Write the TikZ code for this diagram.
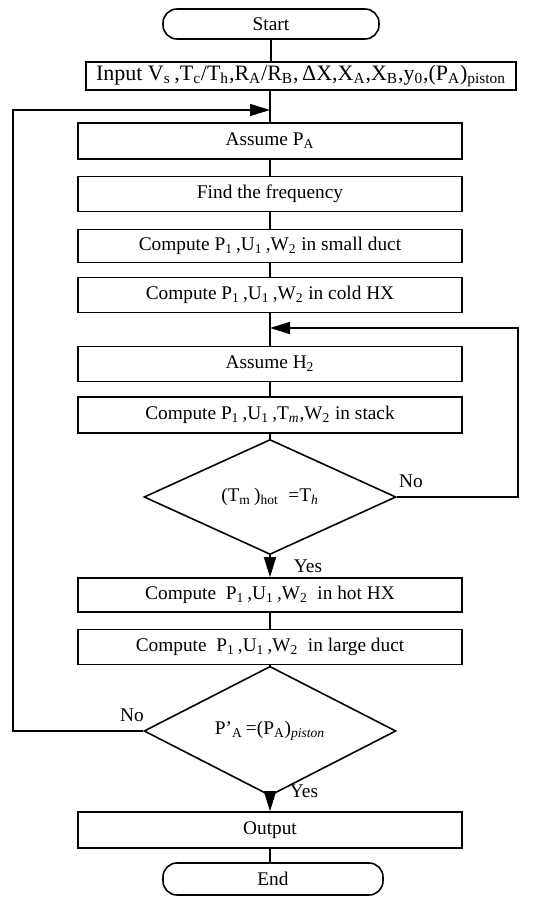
\documentclass[tikz,border=0pt]{standalone}
\usepackage{fontspec}
\setmainfont{Liberation Serif}
\usepackage{tikz}
\usetikzlibrary{positioning,arrows.meta,shapes.geometric}
\tikzset{
  box/.style={draw,line width=0.9pt,minimum width=7.68cm,minimum height=0.7cm,inner sep=0pt},
  term/.style={draw,line width=0.9pt,rounded corners=0.28cm,minimum width=4.32cm,minimum height=0.6cm,inner sep=0pt},
  decide/.style={draw,diamond,line width=0.9pt,minimum width=5.04cm,minimum height=1.98cm,inner sep=0pt},
  flow/.style={line width=0.9pt},
  arr/.style={flow,-{Triangle[length=4mm,width=2.4mm]}}
}

\begin{document}
\begin{tikzpicture}[font=\fontsize{11}{13}\selectfont]
\useasboundingbox (0,0) rectangle (10.86,17.94);

% Boxes
\node[term] (start) at (5.42,17.46) {Start};
\node[box,minimum width=8.6cm,minimum height=0.56cm,font=\fontsize{12.5}{14}\selectfont] (input) at (6.02,16.42)
  {Input V\textsubscript{s}\,,T\textsubscript{c}/T\textsubscript{h},R\textsubscript{A}/R\textsubscript{B},\,ΔX,X\textsubscript{A},X\textsubscript{B},y\textsubscript{0},(P\textsubscript{A})\textsubscript{piston}};
\node[box,minimum height=0.72cm] (assumePA) at (5.40,15.12) {Assume P\textsubscript{A}};
\node[box] (freq) at (5.40,14.06) {Find the frequency};
\node[box,minimum height=0.66cm] (small) at (5.40,13.02) {Compute P\textsubscript{1}\,,U\textsubscript{1}\,,W\textsubscript{2} in small duct};
\node[box] (cold) at (5.40,12.04) {Compute P\textsubscript{1}\,,U\textsubscript{1}\,,W\textsubscript{2} in cold HX};
\node[box] (assumeH) at (5.40,10.66) {Assume H\textsubscript{2}};
\node[box,minimum height=0.72cm] (stack) at (5.40,9.64) {Compute P\textsubscript{1}\,,U\textsubscript{1}\,,T\textsubscript{\textit{m}},W\textsubscript{2} in stack};
\node[decide] (hotchk) at (5.40,8.00) {(T\textsubscript{m}\,)\textsubscript{hot}\ \ =T\textsubscript{\textit{h}}};
\node[box,minimum height=0.68cm] (hot) at (5.40,6.04) {Compute\ \ P\textsubscript{1}\,,U\textsubscript{1}\,,W\textsubscript{2}\ \ in hot HX};
\node[box] (large) at (5.40,5.00) {Compute\ \ P\textsubscript{1}\,,U\textsubscript{1}\,,W\textsubscript{2}\ \ in large duct};
\node[decide,minimum height=1.96cm] (pischk) at (5.40,3.32) {P'\textsubscript{A}\,=(P\textsubscript{A})\textsubscript{\textit{piston}}};
\node[box,minimum height=0.72cm] (output) at (5.40,1.34) {Output};
\node[term,minimum width=4.4cm,minimum height=0.64cm] (end) at (5.46,0.36) {End};

% Junctions
\coordinate (jtop) at (5.40,15.74);
\coordinate (lft) at (0.26,15.74);
\coordinate (jmid) at (5.40,11.38);
\coordinate (rgt) at (10.36,11.38);

% Straight flow
\draw[flow] (start.south |- start.south) -- (start.south |- input.north);
\draw[flow] (input.south -| assumePA.north) -- (assumePA);
\draw[flow] (assumePA) -- (freq);
\draw[flow] (freq) -- (small);
\draw[flow] (small) -- (cold);
\draw[flow] (cold) -- (assumeH);
\draw[flow] (assumeH) -- (stack);
\draw[flow] (stack) -- (hotchk);
\draw[arr] (hotchk) -- (hot);
\draw[flow] (hot) -- (large);
\draw[flow] (large) -- (pischk);
\draw[arr] (pischk) -- (output);
\draw[flow] (output.south) -- (output.south |- end.north);

% Loops
\draw[arr] (hotchk.east) -| (rgt) -- (jmid);
\draw[arr] (pischk.west) -| (lft) -- (jtop);

% Labels
\node (no1) at (8.22,8.32) {No};
\node (yes1) at (6.16,6.62) {Yes};
\node (no2) at (2.64,3.64) {No};
\node (yes2) at (6.08,2.12) {Yes};
\end{tikzpicture}
\end{document}
